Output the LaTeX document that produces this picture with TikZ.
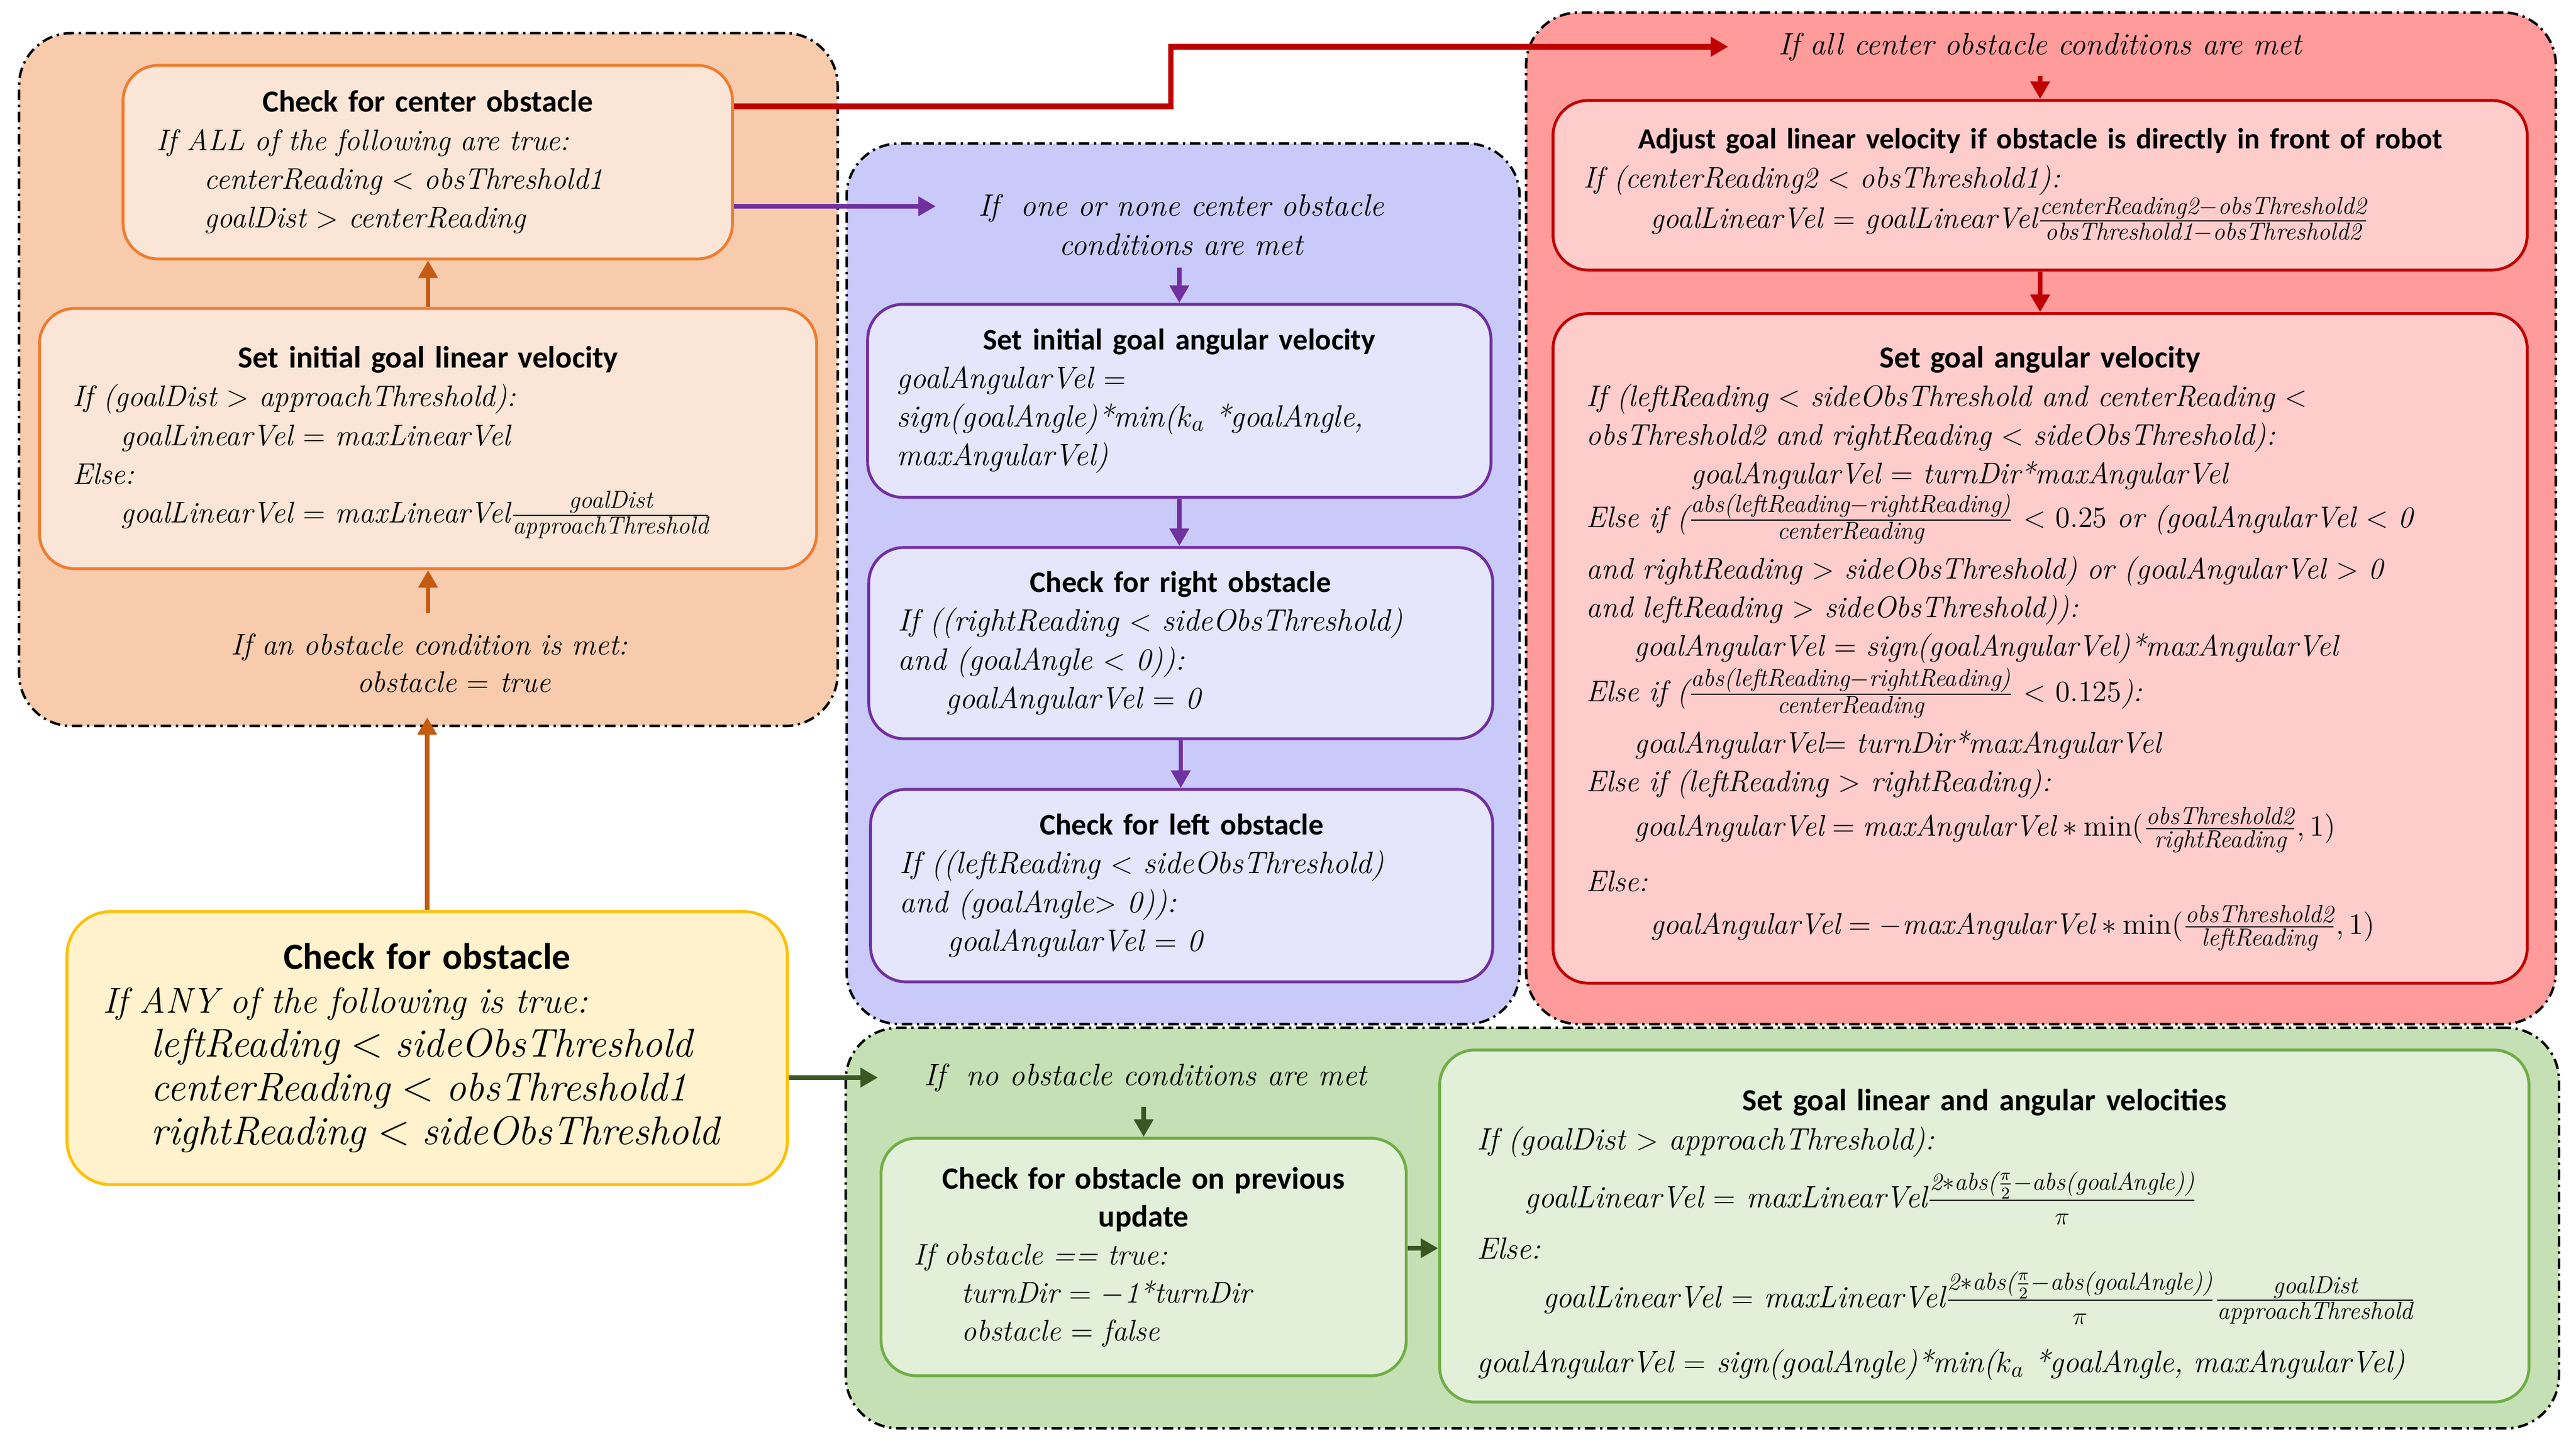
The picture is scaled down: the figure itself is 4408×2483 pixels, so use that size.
\documentclass[tikz,border=0pt]{standalone}
\usepackage{amsmath}
\usepackage{fontspec}
\newfontfamily\carl{Carlito}
\usetikzlibrary{arrows.meta,calc}
\definecolor{orgrp}{HTML}{F8CBAD}
\definecolor{orin}{HTML}{FBE5D6}
\definecolor{orbd}{HTML}{ED7D31}
\definecolor{orar}{HTML}{C55A11}
\definecolor{yefill}{HTML}{FFF2CC}
\definecolor{yebd}{HTML}{FFC000}
\definecolor{pugrp}{HTML}{CACAFA}
\definecolor{puin}{HTML}{E5E5FC}
\definecolor{pubd}{HTML}{7030A0}
\definecolor{regrp}{HTML}{FF9B9B}
\definecolor{rein}{HTML}{FFCCCC}
\definecolor{rebd}{HTML}{C00000}
\definecolor{grgrp}{HTML}{C5E0B4}
\definecolor{grin}{HTML}{E2F0D9}
\definecolor{grbd}{HTML}{70AD47}
\definecolor{grar}{HTML}{385723}
\newcommand\hd[2][15]{\makebox[\hsize][c]{\carl\bfseries\upshape\fontsize{#1}{#1}\selectfont #2}}
\newcommand\ind[1][0.82cm]{\hspace*{#1}}
\newcommand\ti[1]{\textit{#1}}
\newcommand\mth[1]{{\fontsize{19.5}{21.3}\selectfont #1}}
\newcommand\fr[2]{\frac{\text{\fontsize{12}{12}\selectfont\itshape #1}}{\text{\fontsize{12}{12}\selectfont\itshape #2}}}
\tikzset{
  grp/.style={draw=black, line width=1.2pt, dash pattern=on 0.18cm off 0.08cm on 0.04cm off 0.08cm, rounded corners=0.9cm, inner sep=0pt},
  ibox/.style={line width=1.4pt, rounded corners=0.6cm, align=left, inner ysep=0pt, font=\itshape\fontsize{14.5}{18.8}\selectfont},
  txt/.style={align=center, inner sep=0.1cm, font=\itshape\fontsize{15}{19}\selectfont},
  arr/.style={draw=#1, line width=2.2pt, -{Triangle[length=0.3cm,width=0.32cm]}}
}
\begin{document}
\begin{tikzpicture}[x=0.01cm, y=-0.01cm]
\fill[white] (0,0) rectangle (4408,2483);
\useasboundingbox (0,0) rectangle (4408,2483);

% groups
\node[grp, fill=orgrp, minimum width=14cm, minimum height=11.85cm] (gOr) at (733,649.5) {};
\node[grp, fill=pugrp, minimum width=11.51cm, minimum height=15.06cm] (gPu) at (2024.5,999) {};
\node[grp, fill=regrp, minimum width=17.61cm, minimum height=17.3cm] (gRe) at (3492.5,887) {};
\node[grp, fill=grgrp, minimum width=29.3cm, minimum height=6.85cm] (gGr) at (2913,2101.5) {};

% orange
\node[ibox, draw=orbd, fill=orin, minimum height=3.31cm, text width=9.28cm, inner xsep=0.57cm] (cCenter) at (732,277.5)
 {\hd{Check for center obstacle}\\
  If ALL of the following are true:\\
  \ind centerReading $<$ obsThreshold1\\
  \ind goalDist $>$ centerReading};
\node[ibox, draw=orbd, fill=orin, minimum height=4.45cm, text width=12.15cm, inner xsep=0.57cm] (cLinInit) at (732.5,750.5)
 {\rule{0pt}{14.5pt}\hd{Set initial goal linear velocity}\\
  If (goalDist $>$ approachThreshold):\\
  \ind goalLinearVel $=$ maxLinearVel\\
  Else:\\
  \ind goalLinearVel $=$ maxLinearVel$\fr{goalDist}{approachThreshold}$};
\node[txt, font=\itshape\fontsize{14.5}{18.3}\selectfont] (tObsMet) at (735,1135)
 {If an obstacle condition is met:\\ \hspace*{0.84cm}obstacle $=$ true};

% yellow
\node[ibox, draw=yebd, fill=yefill, rounded corners=0.75cm, minimum height=4.67cm, text width=11.08cm, inner xsep=0.62cm, font=\itshape\fontsize{17.5}{21.3}\selectfont] (cObs) at (731,1793.5)
 {\hd[18]{Check for obstacle}\\
  If ANY of the following is true:\\
  \ind \mth{leftReading $<$ sideObsThreshold}\\
  \ind \mth{centerReading $<$ obsThreshold1}\\
  \ind \mth{rightReading $<$ sideObsThreshold}};

% purple
\node[txt] (tOneNone) at (2021,385) {If\ \ one or none center obstacle\\ conditions are met};
\node[ibox, draw=pubd, fill=puin, minimum height=3.3cm, text width=9.66cm, inner xsep=0.5cm, font=\itshape\fontsize{15}{18.8}\selectfont] (pAng) at (2018,686)
 {\hd[14.5]{Set initial goal angular velocity}\\
  goalAngularVel $=$\\
  sign(goalAngle)*min($k_a$ *goalAngle,\\
  maxAngularVel)};
\node[ibox, draw=pubd, fill=puin, minimum height=3.27cm, text width=9.67cm, inner xsep=0.5cm, font=\itshape\fontsize{15}{18.8}\selectfont] (pRight) at (2020.5,1100.5)
 {\hd[14.5]{Check for right obstacle}\\
  If ((rightReading $<$ sideObsThreshold)\\
  and (goalAngle $<$ 0)):\\
  \ind goalAngularVel $=$ 0};
\node[ibox, draw=pubd, fill=puin, minimum height=3.29cm, text width=9.64cm, inner xsep=0.5cm, font=\itshape\fontsize{15}{18.8}\selectfont] (pLeft) at (2022,1515.5)
 {\hd[14.5]{Check for left obstacle}\\
  If ((leftReading $<$ sideObsThreshold)\\
  and (goalAngle$>$ 0)):\\
  \ind goalAngularVel $=$ 0};

% red
\node[txt] (tAll) at (3491,80) {If all center obstacle conditions are met};
\node[ibox, draw=rebd, fill=rein, minimum height=2.9cm, text width=15.62cm, inner xsep=0.52cm] (rAdj) at (3491,317)
 {\hd[14.2]{Adjust goal linear velocity if obstacle is directly in front of robot}\\
  If (centerReading2 $<$ obsThreshold1):\\
  \ind[0.98cm] goalLinearVel $=$ goalLinearVel$\fr{centerReading2$-$obsThreshold2}{obsThreshold1$-$obsThreshold2}$};
\node[ibox, draw=rebd, fill=rein, minimum height=11.45cm, text width=15.52cm, inner xsep=0.57cm] (rAng) at (3491,1109.5)
 {\hd{Set goal angular velocity}\\
  If (leftReading $<$ sideObsThreshold and centerReading $<$\\
  obsThreshold2 and rightReading $<$ sideObsThreshold):\\
  \ind[1.62cm] goalAngularVel $=$ turnDir*maxAngularVel\\[1pt]
  Else if ($\fr{abs(leftReading$-$rightReading)}{centerReading}$ $<$ $0.25$ or (goalAngularVel $<$ 0\\[5pt]
  and rightReading $>$ sideObsThreshold) or (goalAngularVel $>$ 0\\
  and leftReading $>$ sideObsThreshold)):\\
  \ind goalAngularVel $=$ sign(goalAngularVel)*maxAngularVel\\[1pt]
  Else if ($\fr{abs(leftReading$-$rightReading)}{centerReading}$ $<$ $0.125$):\\[5pt]
  \ind goalAngularVel$=$ turnDir*maxAngularVel\\
  Else if (leftReading $>$ rightReading):\\[3pt]
  \ind $\ti{goalAngularVel} = \ti{maxAngularVel}\ast\min(\fr{obsThreshold2}{rightReading},1)$\\[8pt]
  Else:\\[2pt]
  \ind[0.93cm] $\ti{goalAngularVel} = -\ti{maxAngularVel}\ast\min(\fr{obsThreshold2}{leftReading},1)$};

% green
\node[txt] (tNone) at (1960,1844) {If\ \ no obstacle conditions are met};
\node[ibox, draw=grbd, fill=grin, minimum height=4.06cm, text width=7.86cm, inner xsep=0.56cm, font=\itshape\fontsize{14.5}{18.5}\selectfont] (gPrev) at (1957,2151)
 {\hd{Check for obstacle on previous}\\
  \hd{update}\\
  If obstacle == true:\\
  \ind turnDir $=$ $-$1*turnDir\\
  \ind obstacle $=$ false};
\node[ibox, draw=grbd, fill=grin, minimum height=6.02cm, text width=17.35cm, inner xsep=0.64cm, font=\itshape\fontsize{15}{18.8}\selectfont] (gVel) at (3395.5,2098)
 {\rule{0pt}{19pt}\hd{Set goal linear and angular velocities}\\
  If (goalDist $>$ approachThreshold):\\[6pt]
  \ind goalLinearVel $=$ maxLinearVel$\fr{2$\ast$abs($\frac{\pi}{2}$$-$abs(goalAngle))}{\rule{0pt}{11pt}$\pi$}$\\[6pt]
  Else:\\[5pt]
  \ind[0.95cm] goalLinearVel $=$ maxLinearVel$\fr{2$\ast$abs($\frac{\pi}{2}$$-$abs(goalAngle))}{\rule{0pt}{11pt}$\pi$}\fr{goalDist}{approachThreshold}$\\[11pt]
  goalAngularVel $=$ sign(goalAngle)*min($k_a$ *goalAngle, maxAngularVel)};

% connectors
\draw[arr=orar] (cLinInit.north) -- (cLinInit.north |- cCenter.south);
\draw[arr=orar, shorten <=0.25cm] (cLinInit.south |- tObsMet.north) -- (cLinInit.south);
\draw[arr=orar] (cObs.north) -- ($(cObs.north |- gOr.south)+(0,-17)$);
\draw[arr=grar] (cObs.east |- tNone.west) -- ([xshift=-0.68cm]tNone.west);
\draw[arr=grar, shorten <=0.15cm] (gPrev.north |- tNone.south) -- (gPrev.north);
\draw[arr=grar] ($(gPrev.east)+(0,-15)$) -- ($(gPrev.east -| gVel.west)+(0,-15)$);
\draw[arr=pubd] ($(cCenter.east)+(0,75.5)$) -- ($(tOneNone.west |- cCenter.east)+(-62,75.5)$);
\draw[arr=pubd, shorten <=0.1cm] (pAng.north |- tOneNone.south) -- (pAng.north);
\draw[arr=pubd] (pAng.south) -- (pAng.south |- pRight.north);
\draw[arr=pubd] (pRight.south) -- (pRight.south |- pLeft.north);
\draw[arr=rebd, line width=2.6pt] ($(cCenter.east)+(0,-95.5)$) -- ++(748,0) |- ([xshift=-0.75cm]tAll.west);
\draw[arr=rebd, shorten <=0.15cm] (rAdj.north |- tAll.south) -- (rAdj.north);
\draw[arr=rebd] (rAdj.south) -- (rAng.north);
\end{tikzpicture}
\end{document}
